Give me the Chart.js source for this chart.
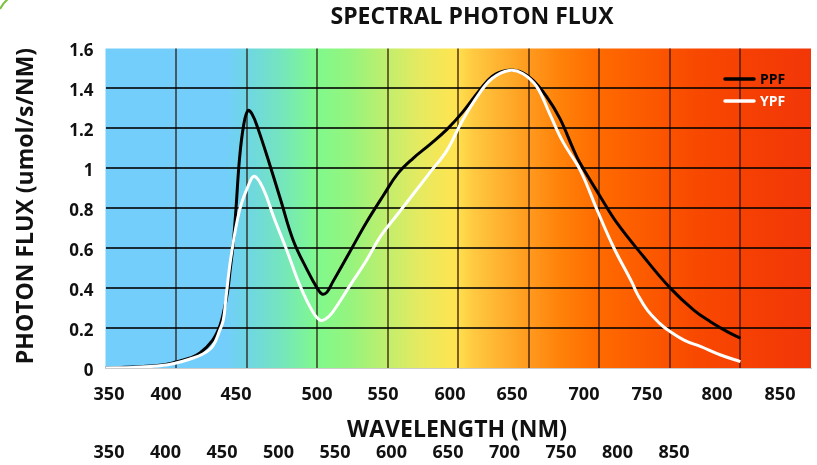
<!DOCTYPE html>
<html>
<head>
<meta charset="utf-8">
<script src="https://cdn.jsdelivr.net/npm/chart.js@4/dist/chart.umd.min.js"></script>
<style>
html,body{margin:0;padding:0;background:#ffffff;}
canvas{display:block;}
</style>
</head>
<body>
<canvas id="c" width="817" height="465"></canvas>
<script>
// ---------------- data ----------------
const chartTitle = 'SPECTRAL PHOTON FLUX';
const xAxisTitle = 'WAVELENGTH (NM)';
const yAxisTitle = 'PHOTON FLUX (umol/s/NM)';
const seriesNames = ['PPF', 'YPF'];

const xTickLabels = ['350','400','450','500','550','600','650','700','750','800','850'];
const xTickLabelsLower = ['350','400','450','500','550','600','650','700','750','800','850'];

const ppfWavelength = [350,370,390,400,410,417,426,431,434,436.5,438.5,440.5,442.5,445,448,451,454,458,465,474,483,493,500,503.5,507,511,523,535,547,557,568,580,592,603,615,624,634,643.5,653,662.5,672,681,686,700.7,712.6,731.4,750.3,766.9,778.7,790.6,800];
const ppfFlux       = [0,0.005,0.015,0.03,0.05,0.075,0.14,0.21,0.29,0.38,0.50,0.62,0.80,1.05,1.22,1.29,1.27,1.20,1.05,0.845,0.64,0.49,0.40,0.37,0.38,0.43,0.58,0.73,0.865,0.972,1.05,1.12,1.195,1.28,1.39,1.46,1.49,1.485,1.44,1.36,1.25,1.105,1.03,0.858,0.725,0.557,0.40,0.29,0.232,0.182,0.149];

const ypfWavelength = [350,370,390,400,410,419,426,431,433.5,435.5,439,445,451,455.5,462,469,479,488,497,502,506,511,523,535,545,557,568,580,592,603,615,624,636,645.5,655.5,665,674,686.5,698.5,710,723,727,734,743,748,760,772,786,800];
const ypfFlux       = [0,0.003,0.012,0.025,0.045,0.07,0.11,0.19,0.24,0.36,0.56,0.79,0.91,0.96,0.895,0.76,0.58,0.41,0.28,0.24,0.245,0.28,0.41,0.54,0.66,0.77,0.87,0.98,1.09,1.24,1.375,1.45,1.49,1.475,1.41,1.27,1.135,0.99,0.79,0.606,0.43,0.37,0.29,0.222,0.193,0.14,0.107,0.065,0.032];

const xMin = 350, xMax = 850, xStep = 50;
const yMin = 0, yMax = 1.6, yStep = 0.2;

// ---------------- layout / style ----------------
const FONT = "'Open Sans', 'DejaVu Sans', sans-serif";
const spectrumStops = [
  [0.00,'#73CEFB'],[0.17,'#73CEFB'],[0.20,'#6ED6E4'],[0.248,'#74E5BE'],[0.30,'#80F98C'],
  [0.347,'#95F47E'],[0.40,'#C2EE6C'],[0.446,'#E6EA60'],[0.495,'#FFE450'],[0.523,'#FFC840'],
  [0.60,'#FF9A1E'],[0.644,'#FF820A'],[0.70,'#FF6A00'],[0.84,'#F84800'],[1.00,'#F23608']
];
const upperLabelOffsets = [3.5,60.5,130.5,211.5,277.5,344.5,406.5,478.5,541.5,611.5,674.5];
const lowerLabelStart = 3.5, lowerLabelStep = 56.5;

function toPoints(xs, ys){ return xs.map((x,i)=>({x:x, y:ys[i]})); }

const decorPlugin = {
  id: 'decor',
  beforeDraw(chart){
    const {ctx, chartArea:a} = chart;
    ctx.save();
    ctx.fillStyle = '#ffffff';
    ctx.fillRect(0,0,chart.width,chart.height);
    const g = ctx.createLinearGradient(a.left,0,a.right,0);
    spectrumStops.forEach(s=>g.addColorStop(s[0], s[1]));
    ctx.fillStyle = g;
    ctx.fillRect(a.left, a.top, a.right-a.left, a.bottom-a.top);
    ctx.restore();
  },
  afterDraw(chart){
    const {ctx, chartArea:a} = chart;
    ctx.save();
    ctx.strokeStyle = '#7DC142';
    ctx.lineWidth = 2;
    ctx.beginPath();
    ctx.moveTo(0,9);
    ctx.quadraticCurveTo(3,3,8,-1);
    ctx.stroke();

    ctx.fillStyle = '#111111';
    ctx.font = "bold 23px " + FONT;
    ctx.textAlign = 'center';
    ctx.textBaseline = 'alphabetic';
    ctx.fillText(chartTitle, 472, 24);
    ctx.font = "bold 18px " + FONT;
    xTickLabels.forEach((t,i)=>ctx.fillText(t, a.left + upperLabelOffsets[i], 400));
    ctx.font = "bold 23px " + FONT;
    ctx.fillText(xAxisTitle, 457, 437);
    ctx.font = "bold 18px " + FONT;
    xTickLabelsLower.forEach((t,i)=>ctx.fillText(t, a.left + lowerLabelStart + i*lowerLabelStep, 458));
    ctx.save();
    ctx.translate(33, 206);
    ctx.rotate(-Math.PI/2);
    ctx.font = "bold 23px " + FONT;
    ctx.fillText(yAxisTitle, 0, 0);
    ctx.restore();
    chart.data.datasets.forEach((ds,i)=>{
      const y = a.top + 30.5 + i*22;
      ctx.strokeStyle = ds.borderColor;
      ctx.lineWidth = 3.5;
      ctx.lineCap = 'round';
      ctx.beginPath();
      ctx.moveTo(a.right-86, y);
      ctx.lineTo(a.right-57, y);
      ctx.stroke();
      ctx.fillStyle = ds.borderColor;
      ctx.font = "bold 14px " + FONT;
      ctx.textAlign = 'left';
      ctx.fillText(ds.label, a.right-51, y+5);
    });
    ctx.restore();
  }
};

new Chart(document.getElementById('c'), {
  type: 'line',
  data: {
    datasets: [
      { label: seriesNames[0], data: toPoints(ppfWavelength, ppfFlux), borderColor: '#000000', borderWidth: 3, pointRadius: 0, tension: 0.4, fill: false, order: 1 },
      { label: seriesNames[1], data: toPoints(ypfWavelength, ypfFlux), borderColor: '#ffffff', borderWidth: 3, pointRadius: 0, tension: 0.4, fill: false, order: 0 }
    ]
  },
  options: {
    responsive: false,
    animation: false,
    events: [],
    layout: { padding: { top: 48.5, right: 6, left: 0, bottom: 0 } },
    plugins: { legend: { display: false }, title: { display: false }, tooltip: { enabled: false } },
    scales: {
      x: {
        type: 'linear', min: xMin, max: xMax,
        afterFit(s){ s.height = 97; },
        ticks: { display: false, stepSize: xStep },
        grid: {
          drawTicks: false, lineWidth: 2,
          color: c => (c.tick && (c.tick.value === xMin || c.tick.value === xMax)) ? 'rgba(0,0,0,0)' : 'rgba(40,20,10,0.62)'
        },
        border: { display: true, color: '#cccccc', width: 1 }
      },
      y: {
        type: 'linear', min: yMin, max: yMax,
        afterFit(s){ s.width = 105.5; },
        ticks: {
          stepSize: yStep, padding: 12, labelOffset: 3, color: '#111111',
          font: { family: FONT, weight: 'bold', size: 17 },
          callback: v => String(Number(v.toFixed(1)))
        },
        grid: {
          drawTicks: false, lineWidth: 2,
          color: c => (c.tick && (Math.abs(c.tick.value - yMin) < 1e-6 || Math.abs(c.tick.value - yMax) < 1e-6)) ? 'rgba(0,0,0,0)' : 'rgba(0,0,0,0.78)'
        },
        border: { display: false }
      }
    }
  },
  plugins: [decorPlugin]
});
</script>
</body>
</html>
